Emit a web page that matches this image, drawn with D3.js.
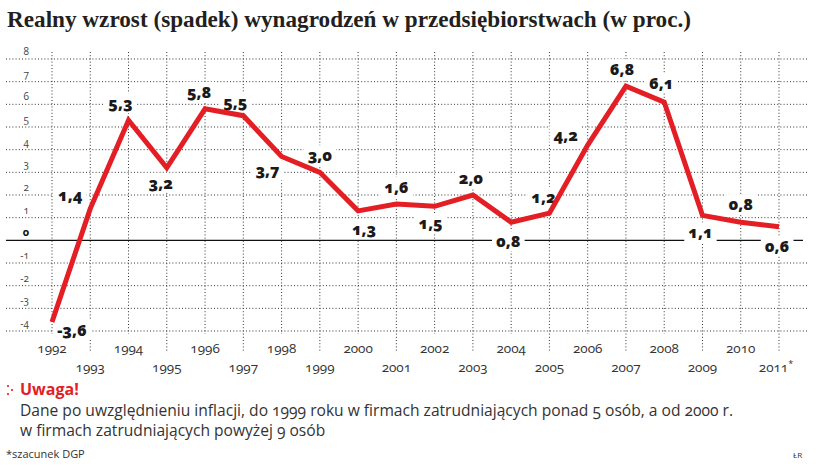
<!DOCTYPE html>
<html><head><meta charset="utf-8">
<script src="https://cdn.jsdelivr.net/npm/d3@7"></script>
<style>body{margin:0;background:#fff}svg{display:block}
.on{font-variant-numeric:oldstyle-nums;font-feature-settings:"onum" 1}</style>
</head><body><svg id="c" width="822" height="470"></svg>
<script>
const years = ["1992","1993","1994","1995","1996","1997","1998","1999","2000","2001","2002","2003","2004","2005","2006","2007","2008","2009","2010","2011"];
const values = [-3.6,1.4,5.3,3.2,5.8,5.5,3.7,3.0,1.3,1.6,1.5,2.0,0.8,1.2,4.2,6.8,6.1,1.1,0.8,0.6];
const yTicks = [-4,-3,-2,-1,0,1,2,3,4,5,6,7,8];
// label placement (pixel offsets from point): [dx, dy]
const labelOffsets = [[20,8],[-20,-14],[-8,-17],[-6,15],[-6,-17],[-8,-14],[-14,14],[0,-17],[6,18],[0,-17],[-4,17],[-2,-17],[-3,19],[-6,-16],[-22,-10],[-4,-17],[-3,-19],[-2,17],[0,-18],[-2,19]];

const svg = d3.select("#c");
const x = d3.scaleLinear().domain([0, years.length-1]).range([52, 779]);
const y = d3.scaleLinear().domain([-4, 8]).range([331, 59]);
const fmt = v => d3.format(".1f")(v).replace(".", ",").replace("−", "-");

// title
svg.append("text").attr("x", 7).attr("y", 27)
  .attr("font-family", "Liberation Serif, serif").attr("font-weight", "bold")
  .attr("font-size", 23.2).attr("fill", "#231f20")
  .text("Realny wzrost (spadek) wynagrodzeń w przedsiębiorstwach (w proc.)");

// horizontal grid
const g = svg.append("g");
g.selectAll("line.h").data(yTicks.filter(d => d !== 0)).join("line")
  .attr("x1", 6).attr("x2", 808).attr("y1", d => y(d)).attr("y2", d => y(d))
  .attr("stroke", "#333").attr("stroke-width", 1).attr("stroke-dasharray", "1,2.2");

// vertical grid
g.selectAll("line.v").data(years).join("line")
  .attr("x1", (d,i) => x(i)).attr("x2", (d,i) => x(i))
  .attr("y1", 52).attr("y2", (d,i) => i % 2 === 0 ? 334 : 352)
  .attr("stroke", "#333").attr("stroke-width", 1).attr("stroke-dasharray", "1,2.2");

// zero line
g.append("line").attr("x1", 6).attr("x2", 803).attr("y1", y(0)).attr("y2", y(0))
  .attr("stroke", "#111").attr("stroke-width", 1.2);

// y tick labels
svg.selectAll("text.yt").data(yTicks).join("text").attr("class", "on")
  .attr("x", 29).attr("y", d => y(d) - 4).attr("text-anchor", "end")
  .attr("font-family", "Open Sans, sans-serif")
  .attr("font-size", d => d === 0 ? 11 : 10)
  .attr("font-weight", d => d === 0 ? "bold" : "normal")
  .attr("fill", d => d === 0 ? "#111" : "#444")
  .text(d => String(d));

// x tick labels
svg.selectAll("text.xt").data(years).join("text").attr("class", "on")
  .attr("x", (d,i) => x(i) + (i === years.length-1 ? -3 : 0))
  .attr("y", (d,i) => i % 2 === 0 ? 353 : 372)
  .attr("text-anchor", "middle")
  .attr("font-family", "Open Sans, sans-serif").attr("font-size", 13.5).attr("fill", "#333")
  .text(d => d)
  .filter((d,i) => i === years.length-1)
  .append("tspan").attr("dy", -5).attr("font-size", 9).text("*");

// value labels with white backgrounds
const lblG = svg.append("g");
values.forEach((v,i) => {
  const cx = x(i) + labelOffsets[i][0], cy = y(v) + labelOffsets[i][1];
  const t = lblG.append("text").attr("class", "on").attr("x", cx).attr("y", cy + 6)
    .attr("text-anchor", "middle")
    .attr("font-family", "Open Sans, sans-serif").attr("font-weight", 800)
    .attr("font-size", 16).attr("fill", "#1a1a1a")
    .text(fmt(v));
  const bb = t.node().getBBox();
  lblG.insert("rect", () => t.node())
    .attr("x", bb.x - 4).attr("y", bb.y + 1).attr("width", bb.width + 8).attr("height", bb.height - 2)
    .attr("fill", "#fff");
});

// line
svg.append("path").datum(values)
  .attr("d", d3.line().x((d,i) => x(i)).y(d => y(d)))
  .attr("fill", "none").attr("stroke", "#e31e24").attr("stroke-width", 5)
  .attr("stroke-linejoin", "miter");

// note
const note = svg.append("g").attr("font-family", "Open Sans, sans-serif");
[[8,386],[12,390],[8,394]].forEach(p => note.append("circle")
  .attr("cx", p[0]).attr("cy", p[1]).attr("r", 1.1).attr("fill", "#e31e24"));
note.append("text").attr("x", 20).attr("y", 395).attr("font-size", 16).attr("fill", "#e31e24")
  .attr("font-weight", "bold").text("Uwaga!");
note.append("text").attr("class", "on").attr("x", 20).attr("y", 416).attr("font-size", 15.6).attr("fill", "#333")
  .text("Dane po uwzględnieniu inflacji, do 1999 roku w firmach zatrudniających ponad 5 osób, a od 2000 r.");
note.append("text").attr("class", "on").attr("x", 20).attr("y", 436).attr("font-size", 15.6).attr("fill", "#333")
  .text("w firmach zatrudniających powyżej 9 osób");
note.append("text").attr("x", 6).attr("y", 458).attr("font-size", 11).attr("fill", "#333")
  .text("*szacunek DGP");
note.append("text").attr("x", 793).attr("y", 458).attr("font-size", 8).attr("fill", "#333")
  .text("ŁR");
</script></body></html>
